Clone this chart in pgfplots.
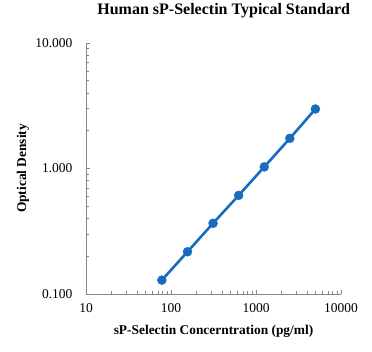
\documentclass[border=0pt]{standalone}
\usepackage{fontspec}
\setmainfont{Liberation Serif}
\usepackage{pgfplots}
\pgfplotsset{compat=1.18}
\definecolor{lineblue}{RGB}{23,108,192}
\definecolor{axgray}{RGB}{134,134,134}
\begin{document}
\begin{tikzpicture}[x=1pt,y=1pt]
\path[use as bounding box] (-86,-57) rectangle (286,294);
\begin{axis}[at={(0,0)}, anchor=south west, scale only axis, width=255pt, height=251pt,
  xmode=log, ymode=log, xmin=10, xmax=10000, ymin=0.1, ymax=10,
  axis x line*=bottom, axis y line*=left,
  axis line style={axgray, line width=0.8pt, -},
  tick align=inside, tick style={axgray, line width=0.6pt},
  major tick length=4pt, minor tick length=3pt,
  xtick={10,100,1000,10000}, xticklabels={10,100,1000,10000},
  ytick={0.1,1,10}, yticklabels={0.100,1.000,10.000},
  /pgf/number format/assume math mode=true,
  tick label style={font=\fontsize{13.5}{15}\selectfont, black},
  yticklabel style={xshift=-10pt},
  xticklabel style={yshift=-6pt},
  title={\textbf{Human sP-Selectin Typical Standard}},
  title style={at={(axis description cs:0.54,1)}, anchor=center, yshift=26pt, font=\fontsize{16}{18}\selectfont},
  xlabel={\textbf{sP-Selectin Concerntration (pg/ml)}},
  ylabel={\textbf{Optical Density}},
  label style={font=\fontsize{13.4}{15}\selectfont},
  xlabel style={at={(axis description cs:0.5,-0.147)}, anchor=center},
  ylabel style={at={(axis description cs:-0.247,0.5)}, anchor=center},
  clip=false,
]
\addplot[lineblue, line width=2.6pt, smooth, mark=*, mark size=4.5pt,
  mark options={fill=lineblue, draw=lineblue, line width=0.4pt}]
  coordinates {(78.125,0.129) (156.25,0.217) (312.5,0.366) (625,0.611) (1250,1.03) (2500,1.74) (5000,2.98)};
\end{axis}
\end{tikzpicture}
\end{document}
